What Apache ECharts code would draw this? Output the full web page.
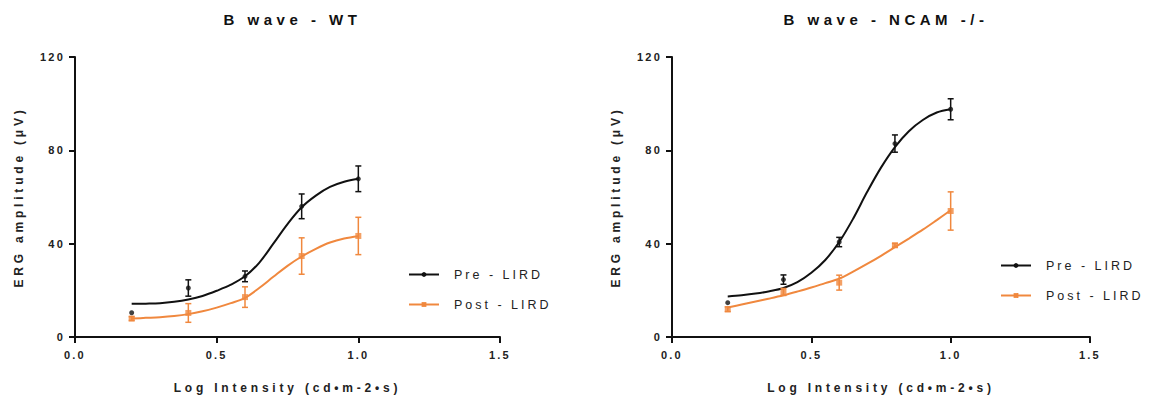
<!DOCTYPE html>
<html>
<head>
<meta charset="utf-8">
<script src="https://cdn.jsdelivr.net/npm/echarts@6/dist/echarts.min.js"></script>
<style>
  html, body { margin: 0; padding: 0; background: #fff; }
  #main { width: 1155px; height: 406px; }
</style>
</head>
<body>
<div id="main"></div>
<script>
const xs = [0.2, 0.4, 0.6, 0.8, 1.0];
const wtPre = [10.4, 21.0, 26.0, 56.0, 67.8];
const wtPreErr = [0, 3.5, 2.3, 5.3, 5.5];
const wtPost = [7.9, 10.3, 17.1, 34.7, 43.3];
const wtPostErr = [0.8, 4.0, 4.4, 7.8, 8.0];
const ncamPre = [14.7, 24.6, 40.7, 82.9, 97.6];
const ncamPreErr = [0, 2.0, 2.0, 3.7, 4.5];
const ncamPost = [11.9, 19.3, 23.3, 39.3, 54.0];
const ncamPostErr = [1.0, 1.5, 3.2, 0.8, 8.2];

// fitted curves, every 0.05
const fitX = [0.2, 0.25, 0.3, 0.35, 0.4, 0.45, 0.5, 0.55, 0.6, 0.65, 0.7, 0.75, 0.8, 0.85, 0.9, 0.95, 1.0];
const wtPreFit = [14.2, 14.3, 14.5, 15.1, 16.1, 17.6, 19.8, 22.4, 26.0, 31.8, 40.0, 48.4, 55.6, 60.6, 64.3, 66.5, 67.8];
const wtPostFit = [7.9, 8.2, 8.5, 9.0, 9.8, 11.0, 12.6, 14.5, 16.8, 21.0, 25.8, 30.5, 34.5, 37.8, 40.5, 42.2, 43.2];
const ncamPreFit = [17.4, 17.9, 18.6, 19.6, 21.0, 23.5, 27.5, 33.0, 40.7, 50.7, 62.1, 72.6, 81.4, 88.2, 93.0, 96.2, 97.6];
const ncamPostFit = [12.6, 13.9, 15.2, 16.5, 17.9, 19.5, 21.2, 23.1, 25.0, 28.0, 31.3, 34.8, 38.5, 42.2, 46.0, 50.1, 54.3];

const titles = ['B wave - WT', 'B wave - NCAM -/-'];
const legendNames = ['Pre - LIRD', 'Post - LIRD'];

const BLACK = '#111111';
const ORANGE = '#f0883e';
const FONT = 'Liberation Sans, Arial, sans-serif';

const grids = [
  { left: 75, top: 57, width: 425, height: 280 },
  { left: 672, top: 57, width: 418, height: 280 }
];

const pairs = (x, y) => x.map((v, i) => [v, y[i]]);
const errs = (x, y, e) => x.map((v, i) => [v, y[i] - e[i], y[i] + e[i]]);

function errorBars(gi, color, data) {
  return {
    type: 'custom',
    xAxisIndex: gi,
    yAxisIndex: gi,
    silent: true,
    z: 3,
    data: data,
    renderItem: function (params, api) {
      const lo = api.coord([api.value(0), api.value(1)]);
      const hi = api.coord([api.value(0), api.value(2)]);
      if (Math.abs(lo[1] - hi[1]) < 1) return;
      const w = 3;
      const st = { stroke: color, lineWidth: 1.5 };
      return {
        type: 'group',
        children: [
          { type: 'line', shape: { x1: lo[0], y1: lo[1], x2: hi[0], y2: hi[1] }, style: st },
          { type: 'line', shape: { x1: lo[0] - w, y1: lo[1], x2: lo[0] + w, y2: lo[1] }, style: st },
          { type: 'line', shape: { x1: hi[0] - w, y1: hi[1], x2: hi[0] + w, y2: hi[1] }, style: st }
        ]
      };
    }
  };
}

function chartSeries(gi, pre, preErr, post, postErr, preFit, postFit) {
  return [
    {
      name: 'Pre - LIRD', type: 'line', xAxisIndex: gi, yAxisIndex: gi,
      data: pairs(fitX, preFit), smooth: 0.35, showSymbol: false,
      symbol: 'circle', symbolSize: 4, z: 2,
      itemStyle: { color: BLACK }, lineStyle: { color: BLACK, width: 2 }
    },
    {
      name: 'Post - LIRD', type: 'line', xAxisIndex: gi, yAxisIndex: gi,
      data: pairs(fitX, postFit), smooth: 0.35, showSymbol: false,
      symbol: 'rect', symbolSize: 5, z: 2,
      itemStyle: { color: ORANGE }, lineStyle: { color: ORANGE, width: 2 }
    },
    {
      name: 'pre-pts', type: 'scatter', xAxisIndex: gi, yAxisIndex: gi,
      data: pairs(xs, pre), symbol: 'circle', symbolSize: 5, z: 4,
      itemStyle: { color: BLACK }
    },
    {
      name: 'post-pts', type: 'scatter', xAxisIndex: gi, yAxisIndex: gi,
      data: pairs(xs, post), symbol: 'rect', symbolSize: 6, z: 4,
      itemStyle: { color: ORANGE }
    },
    errorBars(gi, BLACK, errs(xs, pre, preErr)),
    errorBars(gi, ORANGE, errs(xs, post, postErr))
  ];
}

const axisLine = { show: true, lineStyle: { color: BLACK, width: 2 } };
const axisTick = { show: true, length: 6, lineStyle: { color: BLACK, width: 2 } };

const xAxes = grids.map((g, i) => ({
  type: 'value', gridIndex: i, min: 0, max: 1.5, interval: 0.5,
  axisLine: axisLine, axisTick: axisTick, splitLine: { show: false },
  axisLabel: {
    margin: 12, color: '#222', fontSize: 11, fontWeight: 'bold', fontFamily: FONT,
    formatter: v => v.toFixed(1)
  },
  name: 'Log Intensity (cd•m-2•s)', nameLocation: 'middle', nameGap: 45,
  nameTextStyle: { color: '#222', fontSize: 12, fontWeight: 'bold', fontFamily: FONT }
}));

const yAxes = grids.map((g, i) => ({
  type: 'value', gridIndex: i, min: 0, max: 120, interval: 40,
  axisLine: axisLine, axisTick: axisTick, splitLine: { show: false },
  axisLabel: { margin: 10, color: '#222', fontSize: 11, fontWeight: 'bold', fontFamily: FONT },
  name: 'ERG amplitude (μV)', nameLocation: 'middle', nameGap: 50,
  nameTextStyle: { color: '#222', fontSize: 12, fontWeight: 'bold', fontFamily: FONT }
}));

const chart = echarts.init(document.getElementById('main'), null, { renderer: 'svg' });

chart.setOption({
  animation: false,
  backgroundColor: '#fff',
  title: titles.map((t, i) => ({
    text: t,
    left: grids[i].left + grids[i].width / 2,
    textAlign: 'center',
    top: 7,
    textStyle: { color: '#111', fontSize: 15, fontWeight: 'bold', fontFamily: FONT }
  })),
  legend: [
    { left: 403, top: 263 },
    { left: 995, top: 254 }
  ].map(p => ({
    data: legendNames, orient: 'vertical', left: p.left, top: p.top,
    itemWidth: 30, itemHeight: 6, itemGap: 17, selectedMode: false,
    textStyle: { color: '#222', fontSize: 12.5, fontFamily: FONT, padding: [0, 0, 0, 10] }
  })),
  grid: grids,
  xAxis: xAxes,
  yAxis: yAxes,
  series: [
    ...chartSeries(0, wtPre, wtPreErr, wtPost, wtPostErr, wtPreFit, wtPostFit),
    ...chartSeries(1, ncamPre, ncamPreErr, ncamPost, ncamPostErr, ncamPreFit, ncamPostFit)
  ]
});

// the source figure uses widely tracked lettering
const tracking = { 15: 4.5, 11: 2.2, 12: 3.8, 12.5: 3 };
function spaceText() {
  document.querySelectorAll('#main svg text').forEach(t => {
    const fs = parseFloat(getComputedStyle(t).fontSize);
    if (tracking[fs] !== undefined) t.style.letterSpacing = tracking[fs] + 'px';
  });
}
spaceText();
chart.on('finished', spaceText);
setTimeout(spaceText, 50);
</script>
</body>
</html>
